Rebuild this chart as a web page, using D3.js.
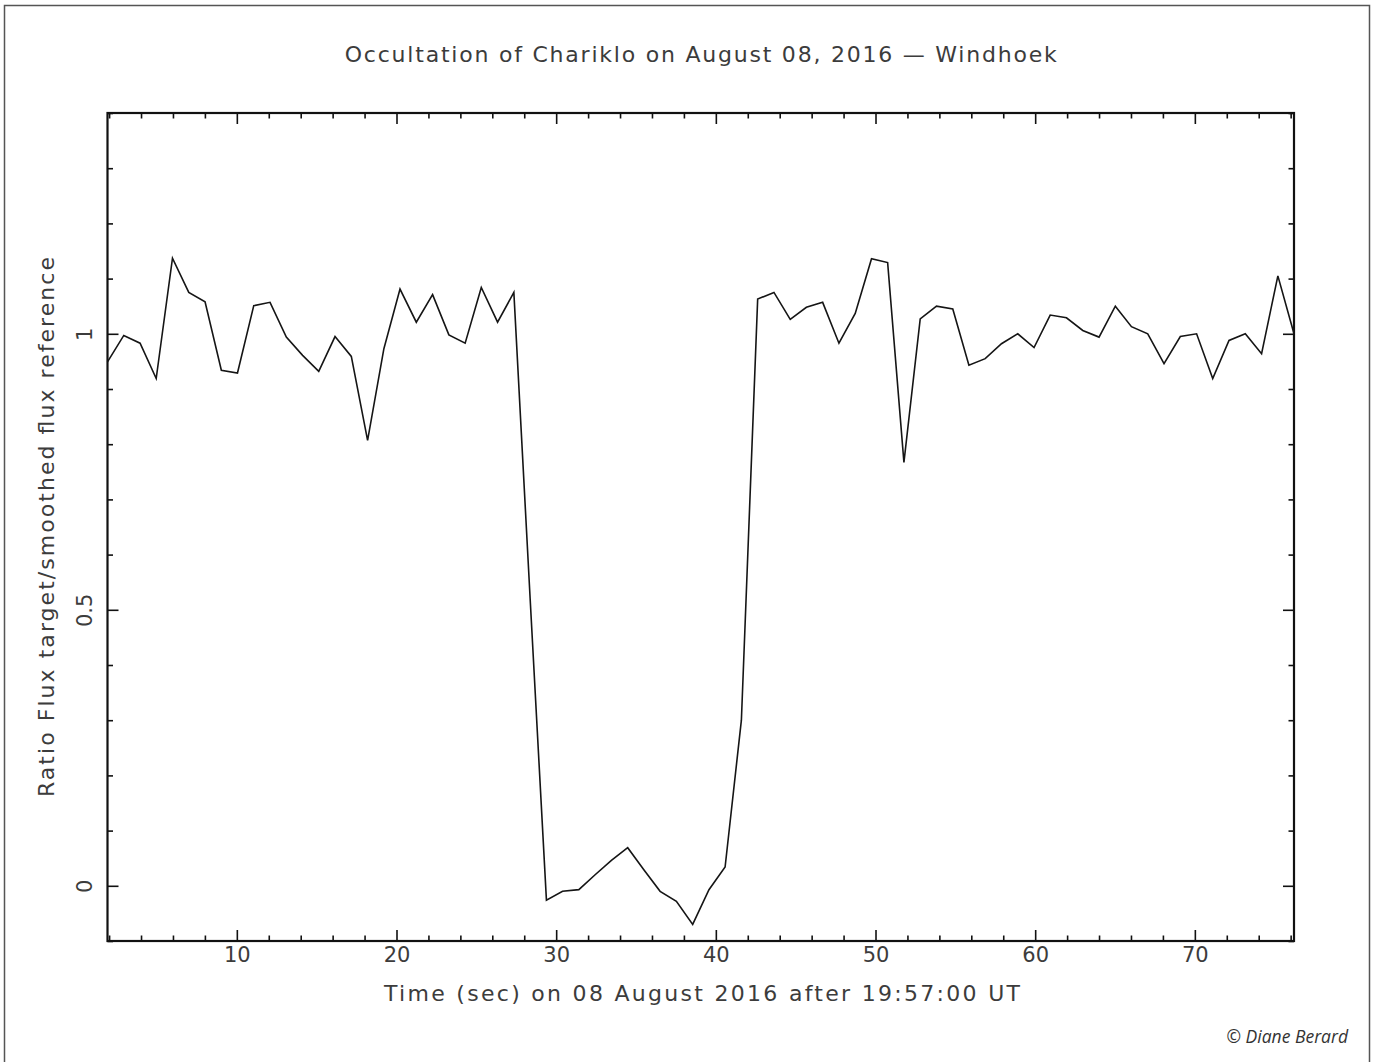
<!DOCTYPE html>
<html>
<head>
<meta charset="utf-8">
<script src="https://cdn.jsdelivr.net/npm/d3@7"></script>
<style>
  html, body { margin: 0; padding: 0; background: #fff; }
  svg { display: block; }
</style>
</head>
<body>
<svg id="chart" width="1375" height="1062"></svg>
<script>
// ---- data ----
const timeSec = [1.90, 2.92, 3.94, 4.95, 5.97, 6.99, 8.01, 9.03, 10.04, 11.06,
  12.08, 13.10, 14.12, 15.13, 16.15, 17.17, 18.19, 19.21, 20.22, 21.24,
  22.26, 23.28, 24.30, 25.31, 26.33, 27.35, 28.37, 29.39, 30.40, 31.42,
  32.44, 33.46, 34.48, 35.49, 36.51, 37.53, 38.55, 39.57, 40.58, 41.60,
  42.62, 43.64, 44.66, 45.67, 46.69, 47.71, 48.73, 49.75, 50.76, 51.78,
  52.80, 53.82, 54.84, 55.85, 56.87, 57.89, 58.91, 59.93, 60.94, 61.96,
  62.98, 64.00, 65.02, 66.03, 67.05, 68.07, 69.09, 70.11, 71.12, 72.14,
  73.16, 74.18, 75.20, 76.21];
const fluxRatio = [0.949, 0.997, 0.983, 0.919, 1.137, 1.075, 1.058, 0.934, 0.929, 1.051,
  1.057, 0.994, 0.961, 0.932, 0.995, 0.959, 0.807, 0.973, 1.081, 1.021,
  1.071, 0.998, 0.983, 1.084, 1.021, 1.075, 0.520, -0.026, -0.010, -0.007,
  0.020, 0.046, 0.069, 0.029, -0.010, -0.028, -0.070, -0.007, 0.034, 0.300,
  1.063, 1.075, 1.026, 1.048, 1.057, 0.983, 1.037, 1.136, 1.129, 0.767,
  1.027, 1.050, 1.045, 0.943, 0.955, 0.982, 1.000, 0.975, 1.034, 1.029,
  1.006, 0.994, 1.050, 1.013, 1.000, 0.946, 0.995, 1.000, 0.919, 0.988,
  1.000, 0.964, 1.105, 1.000];
const xDomain = [1.90, 76.21];
const yDomain = [-0.1, 1.4];
const xMajorTicks = [10, 20, 30, 40, 50, 60, 70];
const xMinorTicks = [2, 4, 6, 8, 12, 14, 16, 18, 22, 24, 26, 28, 32, 34, 36, 38, 42, 44, 46, 48, 52, 54, 56, 58, 62, 64, 66, 68, 72, 74, 76];
const yMajorTicks = [0, 0.5, 1];
const yMinorTicks = [-0.1, 0.1, 0.2, 0.3, 0.4, 0.6, 0.7, 0.8, 0.9, 1.1, 1.2, 1.3, 1.4];
const titleText = "Occultation of Chariklo on August 08, 2016 \u2014 Windhoek";
const xLabelText = "Time (sec) on 08 August 2016 after 19:57:00 UT";
const yLabelText = "Ratio Flux target/smoothed flux reference";
const creditText = "\u00A9 Diane Berard";

// ---- layout ----
const W = 1375, H = 1062;
const plot = { left: 107.5, right: 1294, top: 113, bottom: 941 };
const FONT = "'DejaVu Sans', sans-serif";
const TXT = "#3c3c3c";

const svg = d3.select("#chart");

// outer frame
svg.append("path")
  .attr("d", `M4.5,${H} L4.5,5.5 L1369.5,5.5 L1369.5,${H}`)
  .attr("fill", "none").attr("stroke", "#555").attr("stroke-width", 1.5);

const x = d3.scaleLinear().domain(xDomain).range([plot.left, plot.right]);
const y = d3.scaleLinear().domain(yDomain).range([plot.bottom, plot.top]);

const MAJ = 11, MIN = 5.5;

function styleAxis(g) {
  g.select(".domain").remove();
  g.selectAll(".tick line").attr("stroke", "#111").attr("stroke-width", 1.6);
}
function styleText(sel, fs) {
  sel.style("font-family", FONT).style("font-size", fs).style("fill", TXT)
     .style("font-weight", "normal");
}

// bottom axis (labels)
const gB = svg.append("g").attr("transform", `translate(0,${plot.bottom})`)
  .call(d3.axisBottom(x).tickValues(xMajorTicks).tickSizeInner(-MAJ).tickSizeOuter(0).tickFormat(d3.format("d")));
styleAxis(gB);
gB.selectAll(".tick text")
  .attr("y", 15).attr("dy", null).attr("dominant-baseline", "middle")
  .call(styleText, "21px");
svg.append("g").attr("transform", `translate(0,${plot.bottom})`)
  .call(d3.axisBottom(x).tickValues(xMinorTicks).tickSizeInner(-MIN).tickSizeOuter(0).tickFormat(""))
  .call(styleAxis);

// top axis (mirrored ticks)
svg.append("g").attr("transform", `translate(0,${plot.top})`)
  .call(d3.axisTop(x).tickValues(xMajorTicks).tickSizeInner(-MAJ).tickSizeOuter(0).tickFormat(""))
  .call(styleAxis);
svg.append("g").attr("transform", `translate(0,${plot.top})`)
  .call(d3.axisTop(x).tickValues(xMinorTicks).tickSizeInner(-MIN).tickSizeOuter(0).tickFormat(""))
  .call(styleAxis);

// left axis (labels rotated)
const gL = svg.append("g").attr("transform", `translate(${plot.left},0)`)
  .call(d3.axisLeft(y).tickValues(yMajorTicks).tickSizeInner(-MAJ).tickSizeOuter(0).tickFormat(d => d3.format("")(d)));
styleAxis(gL);
gL.selectAll(".tick text")
  .attr("x", null).attr("dy", null)
  .attr("transform", "translate(-23,0) rotate(-90)")
  .attr("text-anchor", "middle").attr("dominant-baseline", "central")
  .call(styleText, "21px");
svg.append("g").attr("transform", `translate(${plot.left},0)`)
  .call(d3.axisLeft(y).tickValues(yMinorTicks).tickSizeInner(-MIN).tickSizeOuter(0).tickFormat(""))
  .call(styleAxis);

// right axis (mirrored ticks)
svg.append("g").attr("transform", `translate(${plot.right},0)`)
  .call(d3.axisRight(y).tickValues(yMajorTicks).tickSizeInner(-MAJ).tickSizeOuter(0).tickFormat(""))
  .call(styleAxis);
svg.append("g").attr("transform", `translate(${plot.right},0)`)
  .call(d3.axisRight(y).tickValues(yMinorTicks).tickSizeInner(-MIN).tickSizeOuter(0).tickFormat(""))
  .call(styleAxis);

// plot box
svg.append("rect")
  .attr("x", plot.left).attr("y", plot.top)
  .attr("width", plot.right - plot.left).attr("height", plot.bottom - plot.top)
  .attr("fill", "none").attr("stroke", "#111").attr("stroke-width", 2.2);

// data line
const pts = timeSec.map((t, i) => [t, fluxRatio[i]]);
svg.append("path")
  .datum(pts)
  .attr("fill", "none").attr("stroke", "#151515").attr("stroke-width", 1.6)
  .attr("stroke-linejoin", "miter")
  .attr("d", d3.line().x(d => x(d[0])).y(d => y(d[1])));

// title
svg.append("text")
  .attr("x", (plot.left + plot.right) / 2).attr("y", 62)
  .attr("text-anchor", "middle")
  .call(styleText, "22px")
  .attr("textLength", 712).attr("lengthAdjust", "spacing")
  .text(titleText);

// x axis label
svg.append("text")
  .attr("x", 702).attr("y", 1001)
  .attr("text-anchor", "middle")
  .call(styleText, "22px")
  .attr("textLength", 636).attr("lengthAdjust", "spacing")
  .text(xLabelText);

// y axis label
svg.append("text")
  .attr("transform", `translate(46,527) rotate(-90)`)
  .attr("text-anchor", "middle").attr("dominant-baseline", "central")
  .call(styleText, "22px")
  .attr("textLength", 540).attr("lengthAdjust", "spacing")
  .text(yLabelText);

// credit
svg.append("text")
  .attr("x", 1348).attr("y", 1043)
  .attr("text-anchor", "end")
  .style("font-family", "'Open Sans', 'Noto Sans', sans-serif")
  .style("font-style", "italic").style("font-size", "17.5px").style("fill", "#333")
  .text(creditText);
</script>
</body>
</html>
